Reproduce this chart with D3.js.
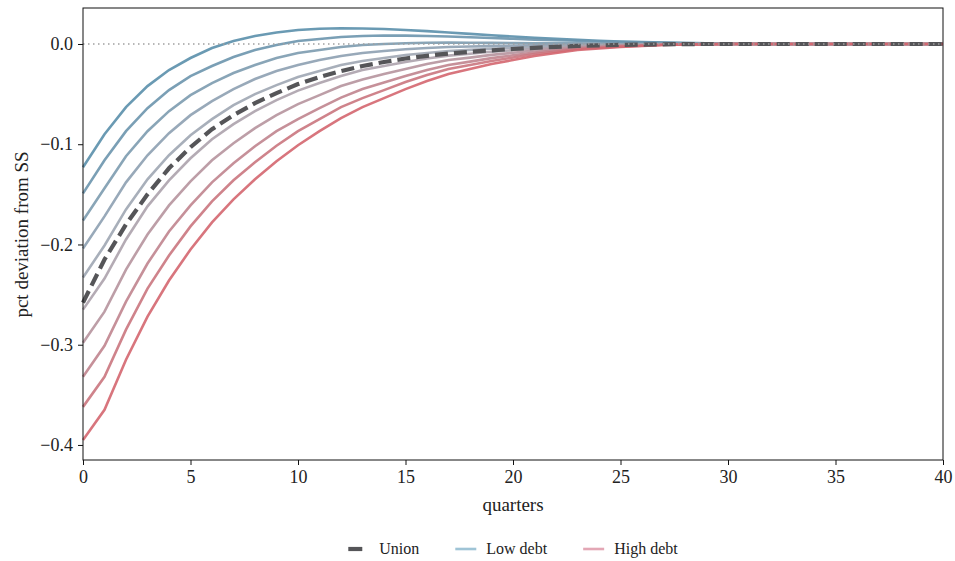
<!DOCTYPE html>
<html>

<head>
    <meta charset="UTF-8" />
    <title>irf debt</title>
    <style>
        body {
            margin: 0;
            padding: 0;
            background-color: white;
            font-family: 'Liberation Serif', 'Times New Roman', serif;
        }

        svg text {
            fill: #222;
        }
    </style>
</head>

<body>
    <div id="chart"></div>

    <script src="https://cdnjs.cloudflare.com/ajax/libs/d3/7.8.5/d3.min.js"></script>

    <script>
        // quarters on the x axis
        const quarters = d3.range(0, 41)
        const xTicks = [0, 5, 10, 15, 20, 25, 30, 35, 40]
        const yTicks = [0, -0.1, -0.2, -0.3, -0.4]

        // responses per country, lowest debt first
        const debt1 = [-0.123, -0.090, -0.063, -0.042, -0.026, -0.014, -0.004, 0.003, 0.008, 0.0115, 0.014, 0.0152, 0.0157, 0.0155, 0.015, 0.014, 0.0128, 0.0115, 0.0101, 0.0087, 0.0074, 0.0062, 0.0051, 0.0041, 0.0032, 0.0025, 0.0019, 0.0014, 0.001, 0.0007, 0.0004, 0.0002, 0, 0, 0, 0, 0, 0, 0, 0, 0]
        const debt2 = [-0.149, -0.116, -0.087, -0.064, -0.046, -0.032, -0.022, -0.013, -0.006, -0.001, 0.003, 0.005, 0.007, 0.008, 0.0084, 0.0083, 0.008, 0.0075, 0.0067, 0.006, 0.0052, 0.0044, 0.0038, 0.0032, 0.0025, 0.0019, 0.0016, 0.0012, 0.0009, 0.0006, 0.0004, 0.0002, 0, 0, 0, 0, 0, 0, 0, 0, 0]
        const debt3 = [-0.176, -0.144, -0.112, -0.087, -0.067, -0.051, -0.039, -0.029, -0.021, -0.014, -0.009, -0.006, -0.003, -0.001, 0.000, 0.0008, 0.0012, 0.0014, 0.0013, 0.0011, 0.0009, 0.0008, 0.0007, 0.0006, 0.0004, 0.0003, 0.0002, 0.0001, 0, 0, 0, 0, 0, 0, 0, 0, 0, 0, 0, 0, 0]
        const debt4 = [-0.204, -0.172, -0.138, -0.111, -0.089, -0.071, -0.057, -0.045, -0.035, -0.027, -0.021, -0.016, -0.012, -0.009, -0.007, -0.0053, -0.004, -0.003, -0.0025, -0.0021, -0.0017, -0.0013, -0.0009, -0.0005, -0.0005, -0.0003, -0.0002, -0.0001, 0, 0, 0, 0, 0, 0, 0, 0, 0, 0, 0, 0, 0]
        const debt5 = [-0.233, -0.201, -0.165, -0.135, -0.111, -0.091, -0.075, -0.061, -0.050, -0.041, -0.033, -0.027, -0.021, -0.017, -0.014, -0.011, -0.009, -0.007, -0.0059, -0.0048, -0.0039, -0.0029, -0.0021, -0.0014, -0.0011, -0.0007, -0.0005, -0.0002, -0.0001, 0, 0, 0, 0, 0, 0, 0, 0, 0, 0, 0, 0]
        const debt6 = [-0.265, -0.234, -0.195, -0.162, -0.136, -0.114, -0.095, -0.080, -0.067, -0.056, -0.0465, -0.039, -0.032, -0.026, -0.022, -0.018, -0.0145, -0.0116, -0.0097, -0.0078, -0.0063, -0.0047, -0.0035, -0.0023, -0.0018, -0.0012, -0.0008, -0.0004, -0.0002, -0.0001, 0, 0, 0, 0, 0, 0, 0, 0, 0, 0, 0]
        const debt7 = [-0.298, -0.267, -0.225, -0.190, -0.161, -0.137, -0.116, -0.099, -0.084, -0.071, -0.060, -0.051, -0.042, -0.0355, -0.030, -0.025, -0.020, -0.016, -0.0136, -0.0109, -0.0088, -0.0065, -0.0049, -0.0032, -0.0025, -0.0016, -0.0011, -0.0005, -0.0003, -0.0001, 0, 0, 0, 0, 0, 0, 0, 0, 0, 0, 0]
        const debt8 = [-0.332, -0.301, -0.257, -0.219, -0.187, -0.161, -0.138, -0.119, -0.102, -0.087, -0.075, -0.064, -0.0535, -0.045, -0.0385, -0.032, -0.026, -0.021, -0.0176, -0.0141, -0.0113, -0.0085, -0.0063, -0.0042, -0.0032, -0.0021, -0.0014, -0.0007, -0.0004, -0.0002, 0, 0, 0, 0, 0, 0, 0, 0, 0, 0, 0]
        const debt9 = [-0.362, -0.332, -0.285, -0.244, -0.211, -0.182, -0.157, -0.136, -0.118, -0.1015, -0.087, -0.075, -0.063, -0.054, -0.046, -0.038, -0.031, -0.025, -0.021, -0.017, -0.0135, -0.010, -0.0076, -0.005, -0.0038, -0.0025, -0.0017, -0.0008, -0.0004, -0.0002, 0, 0, 0, 0, 0, 0, 0, 0, 0, 0, 0]
        const debt10 = [-0.395, -0.365, -0.315, -0.272, -0.236, -0.205, -0.178, -0.155, -0.135, -0.117, -0.101, -0.087, -0.074, -0.063, -0.054, -0.045, -0.037, -0.030, -0.025, -0.020, -0.016, -0.012, -0.009, -0.006, -0.0045, -0.003, -0.002, -0.001, -0.0005, -0.0002, 0, 0, 0, 0, 0, 0, 0, 0, 0, 0, 0]

        const union = [-0.258, -0.215, -0.180, -0.150, -0.124, -0.103, -0.085, -0.071, -0.059, -0.049, -0.040, -0.033, -0.027, -0.022, -0.018, -0.0145, -0.0118, -0.0095, -0.0078, -0.0063, -0.005, -0.0038, -0.0028, -0.0019, -0.0014, -0.0009, -0.0006, -0.0003, -0.0001, 0, 0, 0, 0, 0, 0, 0, 0, 0, 0, 0, 0]

        const countries = [debt1, debt2, debt3, debt4, debt5, debt6, debt7, debt8, debt9, debt10]
        const legendLabels = ['Union', 'Low debt', 'High debt']

        const width = 955
        const height = 561
        const margin = { top: 8, right: 12, bottom: 101, left: 83 }

        const svg = d3.select('#chart').append('svg')
            .attr('width', width)
            .attr('height', height)

        const x = d3.scaleLinear()
            .domain([0, 40])
            .range([margin.left, width - margin.right])

        const y = d3.scaleLinear()
            .domain([-0.415, 0.0359])
            .range([height - margin.bottom, margin.top])

        // blue -> gray -> red across the countries
        const lineColor = d3.piecewise(d3.interpolateRgb, ['#5a8fab', '#a7a9b4', '#d4666f'])

        const line = d3.line()
            .x((d, i) => x(quarters[i]))
            .y(d => y(d))

        svg.append('g')
            .selectAll('path')
            .data(countries)
            .join('path')
            .attr('d', line)
            .attr('fill', 'none')
            .attr('stroke', (d, i) => lineColor(i / (countries.length - 1)))
            .attr('stroke-opacity', 0.9)
            .attr('stroke-width', 2.6)

        svg.append('path')
            .attr('d', line(union))
            .attr('fill', 'none')
            .attr('stroke', '#555558')
            .attr('stroke-width', 4.2)
            .attr('stroke-dasharray', '13,6')

        // steady state line
        svg.append('line')
            .attr('x1', x(0)).attr('x2', x(40))
            .attr('y1', y(0)).attr('y2', y(0))
            .attr('stroke', '#a0a0a0')
            .attr('stroke-width', 1.4)
            .attr('stroke-dasharray', '1.5,3.5')

        // frame
        svg.append('rect')
            .attr('x', x(0))
            .attr('y', margin.top)
            .attr('width', x(40) - x(0))
            .attr('height', y.range()[0] - margin.top)
            .attr('fill', 'none')
            .attr('stroke', '#111')
            .attr('stroke-width', 1)

        const xAxis = svg.append('g')
            .attr('transform', `translate(0,${height - margin.bottom})`)
            .call(d3.axisBottom(x).tickValues(xTicks).tickSize(5).tickPadding(5))
        const yAxis = svg.append('g')
            .attr('transform', `translate(${margin.left},0)`)
            .call(d3.axisLeft(y).tickValues(yTicks).tickFormat(d3.format('.1f')).tickSize(5).tickPadding(5))

        for (const ax of [xAxis, yAxis]) {
            ax.select('.domain').remove()
            ax.selectAll('.tick line').attr('stroke', '#111')
            ax.selectAll('.tick text')
                .attr('fill', '#222')
                .style('font-family', "'Liberation Serif', serif")
                .style('font-size', '18px')
        }

        svg.append('text')
            .attr('x', (x(0) + x(40)) / 2)
            .attr('y', 511)
            .attr('text-anchor', 'middle')
            .style('font-size', '19px')
            .text('quarters')

        svg.append('text')
            .attr('transform', `translate(28,${y(-0.19)}) rotate(-90)`)
            .attr('text-anchor', 'middle')
            .style('font-size', '19px')
            .text('pct deviation from SS')

        // legend
        const legend = svg.append('g').attr('transform', 'translate(0,549)')
        const handleStyles = [
            { color: '#555558', width: 4.2, dash: '14,8' },
            { color: '#9fc4d6', width: 2.6, dash: null },
            { color: '#e3a7b5', width: 2.6, dash: null }
        ]
        const handleLen = 21
        const items = legend.selectAll('g')
            .data(legendLabels)
            .join('g')
        items.append('line')
            .attr('x1', 0).attr('x2', handleLen)
            .attr('y1', 0).attr('y2', 0)
            .attr('stroke', (d, i) => handleStyles[i].color)
            .attr('stroke-width', (d, i) => handleStyles[i].width)
            .attr('stroke-dasharray', (d, i) => handleStyles[i].dash)
        items.append('text')
            .attr('x', handleLen + 10)
            .attr('y', 5)
            .style('font-size', '16px')
            .text(d => d)

        const itemWidths = items.nodes().map(n => handleLen + 10 + n.querySelector('text').getComputedTextLength())
        const gap = 36
        const total = d3.sum(itemWidths) + gap * (itemWidths.length - 1)
        let cursor = (x(0) + x(40)) / 2 - total / 2
        items.attr('transform', (d, i) => {
            const t = `translate(${cursor},0)`
            cursor += itemWidths[i] + gap
            return t
        })
    </script>
</body>

</html>
